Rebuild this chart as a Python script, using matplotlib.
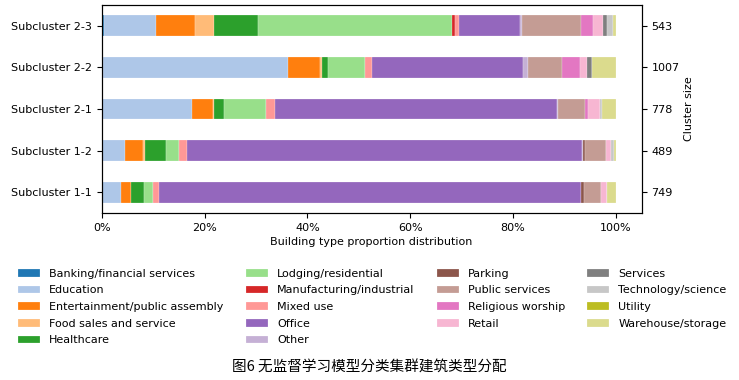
import matplotlib
matplotlib.use("Agg")
import matplotlib.pyplot as plt
import numpy as np
from matplotlib.ticker import PercentFormatter

# bottom -> top
clusters = ["Subcluster 1-1", "Subcluster 1-2", "Subcluster 2-1",
            "Subcluster 2-2", "Subcluster 2-3"]
cluster_size = [749, 489, 778, 1007, 543]

building_types = [
    "Banking/financial services", "Education", "Entertainment/public assembly",
    "Food sales and service", "Healthcare", "Lodging/residential",
    "Manufacturing/industrial", "Mixed use", "Office", "Other", "Parking",
    "Public services", "Religious worship", "Retail", "Services",
    "Technology/science", "Utility", "Warehouse/storage",
]

# share (%) of each building type, per cluster in the order of `clusters`
banking = [0.0, 0.0, 0.1, 0.3, 0.4]
education = [3.8, 4.5, 17.5, 36.0, 10.1]
entertainment = [2.0, 3.5, 4.1, 6.1, 7.7]
food = [0.0, 0.4, 0.1, 0.5, 3.7]
healthcare = [2.4, 4.2, 2.1, 1.2, 8.5]
lodging = [1.7, 2.4, 8.2, 7.1, 37.8]
manufacturing = [0.0, 0.0, 0.0, 0.0, 0.5]
mixed_use = [1.2, 1.6, 1.6, 1.4, 0.8]
office = [82.1, 76.7, 55.1, 29.3, 11.8]
other = [0.0, 0.3, 0.1, 1.0, 0.5]
parking = [0.55, 0.3, 0.0, 0.0, 0.0]
public_services = [3.3, 4.1, 5.2, 6.6, 11.4]
religious = [0.0, 0.0, 0.7, 3.5, 2.3]
retail = [1.2, 1.0, 2.3, 1.3, 2.0]
services = [0.0, 0.0, 0.0, 1.1, 0.7]
technology = [0.0, 0.7, 0.3, 0.0, 1.3]
utility = [0.0, 0.0, 0.0, 0.0, 0.0]
warehouse = [1.8, 0.3, 2.8, 4.6, 0.5]

shares = np.array([banking, education, entertainment, food, healthcare,
                   lodging, manufacturing, mixed_use, office, other, parking,
                   public_services, religious, retail, services, technology,
                   utility, warehouse], dtype=float)
shares = shares / shares.sum(axis=0)

colors = plt.cm.tab20(np.arange(len(building_types)))

fig = plt.figure(figsize=(7.39, 3.80), dpi=100)
ax = fig.add_axes([0.1376, 0.4395, 0.7307, 0.5475])

y = np.arange(len(clusters))
left = np.zeros(len(clusters))
for name, vals, c in zip(building_types, shares, colors):
    ax.barh(y, vals, left=left, height=0.5, color=c, label=name,
            edgecolor="white", linewidth=0.15)
    left += vals

ax.set_xlim(0, 1.05)
ax.set_ylim(-0.5, 4.5)
ax.set_yticks(y)
ax.set_yticklabels(clusters, fontsize=8)
ax.xaxis.set_major_formatter(PercentFormatter(1.0, decimals=0))
ax.tick_params(axis="x", labelsize=8)
ax.set_xlabel("Building type proportion distribution", fontsize=8, labelpad=3)

ax2 = ax.twinx()
ax2.set_ylim(ax.get_ylim())
ax2.set_yticks(y)
ax2.set_yticklabels([str(s) for s in cluster_size], fontsize=8)
ax2.set_ylabel("Cluster size", fontsize=8, labelpad=3)

handles, labels = ax.get_legend_handles_labels()
fig.legend(handles, labels, ncol=4, fontsize=8, frameon=False,
           labelspacing=0.6, loc="upper left", bbox_to_anchor=(0.011, 0.319))

fig.text(0.5, 0.034, "图6 无监督学习模型分类集群建筑类型分配", ha="center",
         va="center", fontsize=10.5, family=["Noto Sans CJK SC", "DejaVu Sans"])

fig.savefig("out.png", dpi=100)
